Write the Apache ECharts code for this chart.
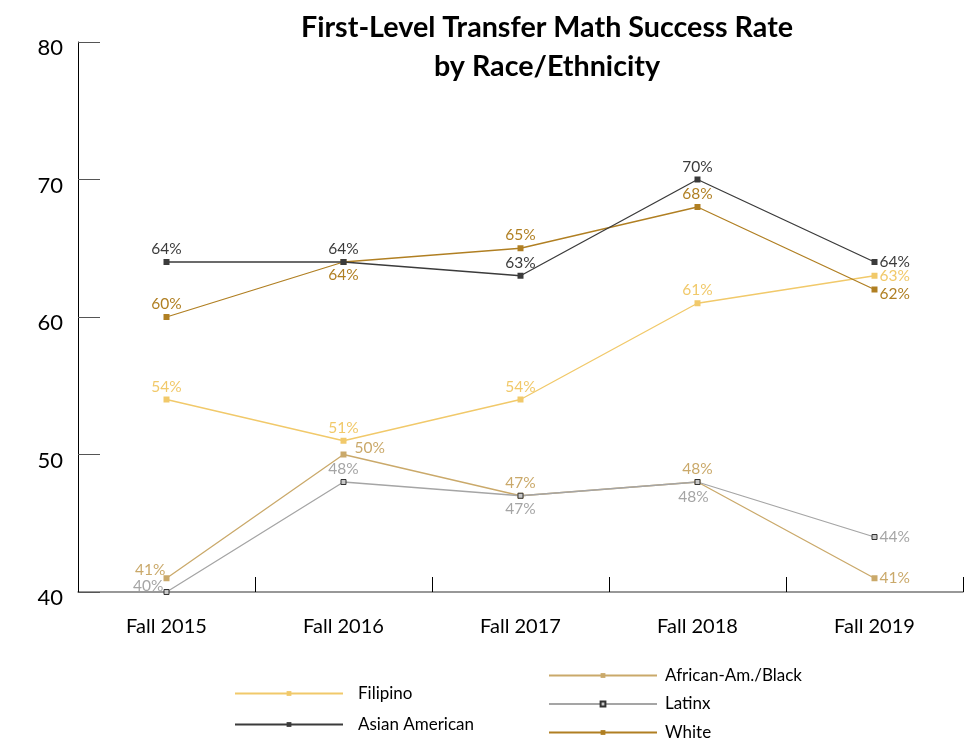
<!DOCTYPE html>
<html>
<head>
<meta charset="utf-8">
<style>
  html, body { margin: 0; padding: 0; background: #fff; }
  #chart { width: 964px; height: 741px; }
</style>
<script src="https://cdn.jsdelivr.net/npm/echarts@6/dist/echarts.min.js"></script>
</head>
<body>
<div id="chart"></div>
<script>
const categories = ["Fall 2015", "Fall 2016", "Fall 2017", "Fall 2018", "Fall 2019"];
const filipino = [54, 51, 54, 61, 63];
const asianAmerican = [64, 64, 63, 70, 64];
const africanAmBlack = [41, 50, 47, 48, 41];
const latinx = [40, 48, 47, 48, 44];
const white = [60, 64, 65, 68, 62];
const yTicks = [40, 50, 60, 70, 80];

// where each point's label sits, per series
const labelPlaces = {
  filipino: ["top", "top", "top", "top", "right"],
  asian: ["top", "top", "top", "top", "right"],
  african: ["left", "right", "top", "top", "right"],
  latinx: ["left", "top", "bottom", "bottom", "right"],
  white: ["top", "bottom", "top", "top", "right"],
};

const FONT = "Lato, 'Open Sans', sans-serif";

function buildData(values, places, extra = {}) {
  return values.map((v, i) => {
    const label = { position: places[i] };
    if (extra[i]) Object.assign(label, extra[i]);
    return { value: v, label };
  });
}

function makeSeries(name, values, places, color, opts = {}) {
  return {
    name,
    type: "line",
    data: buildData(values, places, opts.labelExtra),
    symbol: "rect",
    symbolSize: opts.symbolSize || 6,
    lineStyle: { color, width: 1.3 },
    itemStyle: {
      color: opts.fill || color,
      borderColor: opts.border || color,
      borderWidth: opts.border ? 1 : 0,
    },
    label: {
      show: true,
      formatter: "{c}%",
      color,
      fontFamily: FONT,
      fontSize: 15.5,
      distance: 2,
    },
    emphasis: { disabled: true },
    z: opts.z || 2,
  };
}

const chart = echarts.init(document.getElementById("chart"));

const legendText = { fontFamily: FONT, fontSize: 17, color: "#000" };

chart.setOption({
  animation: false,
  backgroundColor: "#fff",
  title: {
    text: "First-Level Transfer Math Success Rate\nby Race/Ethnicity",
    left: 542,
    textAlign: "center",
    top: 3,
    textStyle: {
      fontFamily: FONT,
      fontWeight: "bold",
      fontSize: 28.7,
      lineHeight: 39,
      color: "#000",
    },
  },
  grid: { left: 78, right: 1, top: 42, bottom: 149 },
  legend: [
    {
      orient: "vertical",
      left: 234,
      top: 685,
      height: 120,
      padding: 0,
      itemWidth: 108,
      itemHeight: 6,
      itemGap: 14,
      data: ["Filipino", "Asian American"],
      textStyle: Object.assign({ padding: [0, 0, 0, 10] }, legendText),
    },
    {
      orient: "vertical",
      left: 548,
      top: 667,
      height: 120,
      padding: 0,
      itemWidth: 108,
      itemHeight: 6,
      itemGap: 11.5,
      data: ["African-Am./Black", "Latinx", "White"],
      textStyle: Object.assign({ padding: [0, 0, 0, 3] }, legendText),
    },
  ],
  xAxis: {
    type: "category",
    data: categories,
    boundaryGap: true,
    axisLine: { lineStyle: { color: "#777", width: 1.5 } },
    axisTick: { show: true, inside: true, length: 15, lineStyle: { color: "#000" } },
    axisLabel: { fontFamily: FONT, fontSize: 20, color: "#000", margin: 25 },
  },
  yAxis: {
    type: "value",
    min: yTicks[0],
    max: yTicks[yTicks.length - 1],
    interval: 10,
    axisLine: { show: true, lineStyle: { color: "#000", width: 1 } },
    axisTick: { show: true, inside: true, length: 22, lineStyle: { color: "#555" } },
    axisLabel: {
      fontFamily: FONT,
      fontSize: 22,
      color: "#000",
      margin: 15,
      verticalAlign: "top",
      lineHeight: 12,
    },
    splitLine: { show: false },
  },
  series: [
    makeSeries("Filipino", filipino, labelPlaces.filipino, "#f1c96a"),
    makeSeries("Asian American", asianAmerican, labelPlaces.asian, "#3b3b3b", { z: 3 }),
    makeSeries("African-Am./Black", africanAmBlack, labelPlaces.african, "#caa96a", {
      labelExtra: { 0: { offset: [4, -8] }, 1: { offset: [6, -7] } },
    }),
    makeSeries("Latinx", latinx, labelPlaces.latinx, "#a5a5a5", {
      fill: "#c8c8c8",
      border: "#333",
      symbolSize: 5,
      labelExtra: { 0: { offset: [2, -6] }, 3: { offset: [-4, 2] } },
    }),
    makeSeries("White", white, labelPlaces.white, "#b07f22", {
      labelExtra: { 4: { offset: [0, 4] } },
    }),
  ],
});
</script>
</body>
</html>
